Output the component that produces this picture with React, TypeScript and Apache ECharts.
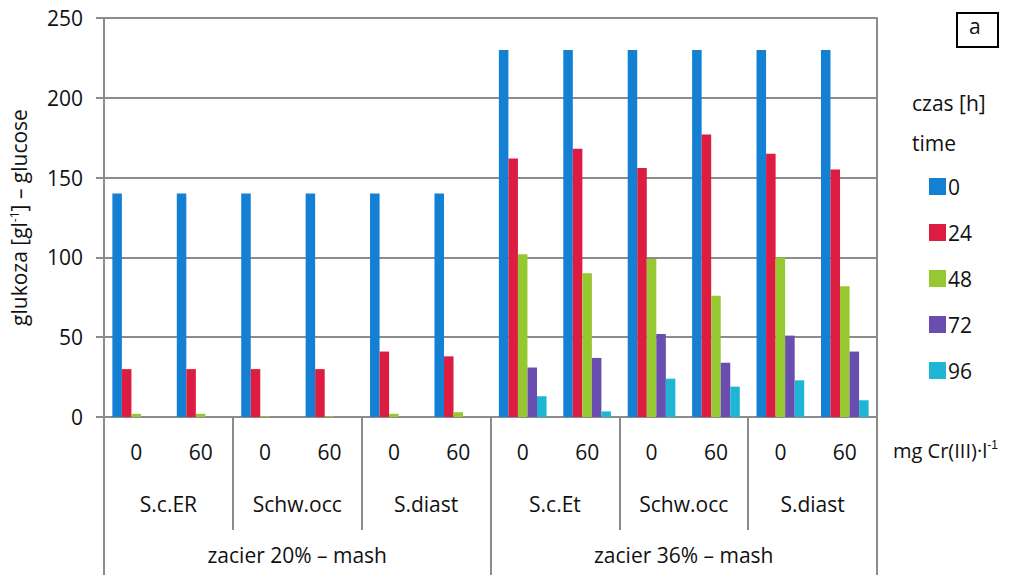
import React, { useEffect, useRef } from "react";
import * as echarts from "echarts";

const doseLabels = ["0", "60", "0", "60", "0", "60", "0", "60", "0", "60", "0", "60"];
const strains = ["S.c.ER", "Schw.occ", "S.diast", "S.c.Et", "Schw.occ", "S.diast"];
const mashes = ["zacier 20% – mash", "zacier 36% – mash"];
const timeNames = ["0", "24", "48", "72", "96"];
const yTicks = { min: 0, max: 250, interval: 50 };

const t0 = [140, 140, 140, 140, 140, 140, 230, 230, 230, 230, 230, 230];
const t24 = [30, 30, 30, 30, 41, 38, 162, 168, 156, 177, 165, 155];
const t48 = [2, 2, 0.5, 0.5, 2, 3, 102, 90, 99, 76, 100, 82];
const t72 = [0, 0, 0, 0, 0, 0, 31, 37, 52, 34, 51, 41];
const t96 = [0, 0, 0, 0, 0, 0, 13, 3.5, 24, 19, 23, 10.5];
const seriesValues = [t0, t24, t48, t72, t96];
const colors = ["#1480d4", "#dc1c40", "#96c832", "#6a4eaf", "#1fb6d6"];

const FONT = "Open Sans";
const FS = 21;
const TXT = "#111111";
const GRAY = "#8c8c8c";

export default function App() {
  const ref = useRef<HTMLDivElement>(null);
  useEffect(() => {
    if (!ref.current) return;
    const chart = echarts.init(ref.current, null, { renderer: "svg" });
    const baseAxis = {
      type: "category" as const,
      position: "bottom" as const,
      boundaryGap: true,
      axisLine: { show: false },
      splitLine: { show: false },
    };
    chart.setOption({
      animation: false,
      textStyle: { fontFamily: FONT, color: TXT },
      grid: { left: 101, right: 147, top: 18, bottom: 163 },
      legend: {
        orient: "vertical",
        left: 924,
        top: 171,
        itemWidth: 17,
        itemHeight: 17,
        itemGap: 25,
        icon: "rect",
        data: timeNames,
        textStyle: { fontFamily: FONT, fontSize: FS, color: TXT, padding: [0, 0, 0, -3] },
      },
      xAxis: [
        {
          ...baseAxis,
          data: doseLabels,
          axisLine: { show: true, lineStyle: { color: GRAY, width: 2 } },
          axisTick: { show: false },
          axisLabel: { margin: 24, fontSize: FS, color: TXT, fontFamily: FONT, interval: 0 },
        },
        {
          ...baseAxis,
          data: strains,
          axisTick: { show: true, length: 113, lineStyle: { color: GRAY, width: 2 } },
          axisLabel: { margin: 76, fontSize: FS, color: TXT, fontFamily: FONT, interval: 0 },
        },
        {
          ...baseAxis,
          data: mashes,
          axisTick: { show: true, length: 158, lineStyle: { color: GRAY, width: 2 } },
          axisLabel: { margin: 127, fontSize: FS, color: TXT, fontFamily: FONT, interval: 0 },
        },
      ],
      yAxis: [
        {
          type: "value",
          ...yTicks,
          name: "glukoza [gl{sup|-1}] – glucose",
          nameLocation: "middle",
          nameGap: 74,
          nameTextStyle: {
            fontSize: FS,
            color: TXT,
            fontFamily: FONT,
            rich: { sup: { fontSize: 12, verticalAlign: "top", padding: [0, 0, 10, 0], color: TXT, fontFamily: FONT } },
          },
          axisLine: { show: true, lineStyle: { color: GRAY, width: 2 } },
          axisTick: { show: true, length: 8, lineStyle: { color: GRAY, width: 2 } },
          axisLabel: { fontSize: FS, color: TXT, fontFamily: FONT, margin: 21 },
          splitLine: { show: true, lineStyle: { color: GRAY, width: 2 } },
        },
        {
          type: "value",
          ...yTicks,
          position: "right",
          axisLine: { show: true, lineStyle: { color: GRAY, width: 2 } },
          axisTick: { show: false },
          axisLabel: { show: false },
          splitLine: { show: false },
        },
      ],
      series: seriesValues.map((vals, i) => ({
        type: "bar",
        name: timeNames[i],
        data: vals,
        xAxisIndex: 0,
        yAxisIndex: 0,
        barGap: "0%",
        barCategoryGap: "26%",
        itemStyle: { color: colors[i] },
      })),
      graphic: [
        {
          type: "text",
          left: 912,
          top: 92,
          style: { text: "czas [h]", font: `${FS}px "${FONT}"`, fill: TXT },
        },
        {
          type: "text",
          left: 912,
          top: 132,
          style: { text: "time", font: `${FS}px "${FONT}"`, fill: TXT },
        },
        {
          type: "rect",
          shape: { x: 957, y: 13, width: 41, height: 34 },
          style: { fill: "#fff", stroke: "#000", lineWidth: 2 },
        },
        {
          type: "text",
          left: 969,
          top: 15,
          style: { text: "a", font: `${FS}px "${FONT}"`, fill: TXT },
        },
        {
          type: "text",
          left: 893,
          top: 439,
          style: {
            text: "mg Cr(III)·l{sup|-1}",
            font: `${FS - 1}px "${FONT}"`,
            fill: TXT,
            rich: { sup: { fontSize: 12, verticalAlign: "top", padding: [0, 0, 10, 0], fill: TXT } },
          },
        },
      ],
    });
    return () => chart.dispose();
  }, []);
  return (
    <div
      ref={ref}
      style={{ position: "fixed", left: 0, top: 0, width: 1024, height: 580, background: "#fff" }}
    />
  );
}
